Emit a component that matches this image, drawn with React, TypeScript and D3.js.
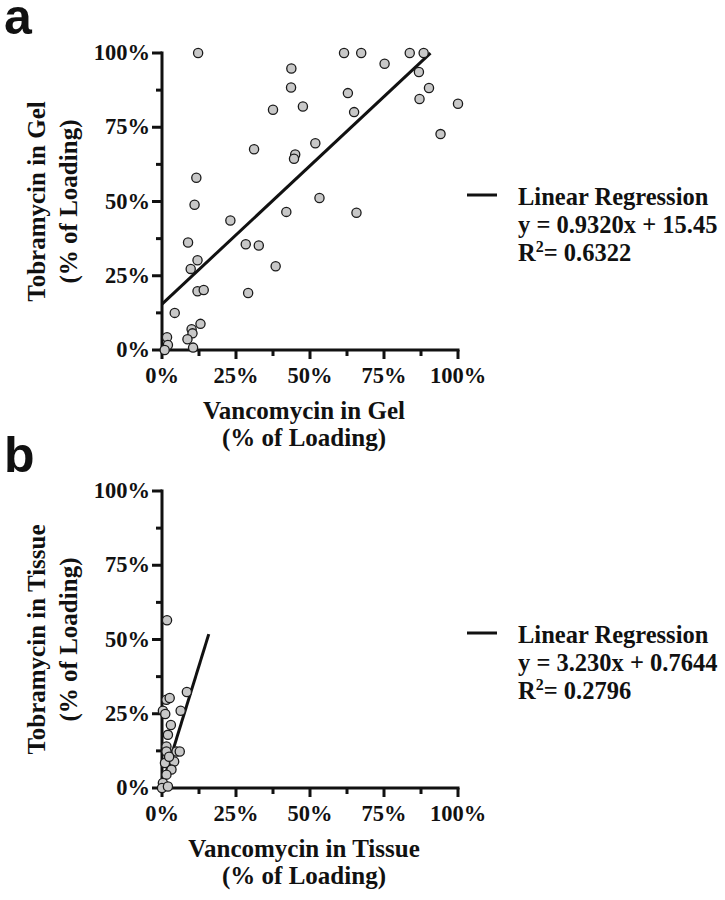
import React from "react";
import * as d3 from "d3";

const gelVanco = [12.2,61.5,67.3,83.7,88.4,75.2,43.7,86.8,43.6,90.2,62.8,87.0,100,37.5,47.6,64.9,94.1,31.1,51.8,45.0,44.6,11.6,11.0,53.2,42.0,65.7,23.1,8.8,28.3,32.7,12.0,9.7,38.4,12.0,14.1,29.1,4.3,13.0,10.0,10.3,8.6,1.7,2.0,10.5,0.9];
const gelTobra = [100,100,100,100,100,96.4,94.8,93.6,88.4,88.2,86.5,84.5,82.9,80.9,82.0,80.1,72.7,67.6,69.6,65.8,64.4,58.0,48.9,51.2,46.5,46.2,43.6,36.2,35.6,35.2,30.2,27.3,28.2,19.8,20.2,19.2,12.5,8.8,7.0,5.6,3.6,4.3,1.7,0.8,0];

const tissueVanco = [1.7,1.5,2.6,8.4,0.3,1.1,6.3,3.0,2.0,1.5,1.5,4.9,6.0,4.1,3.2,1.5,0.3,0,2.0,1.0,2.4];
const tissueTobra = [56.5,29.7,30.3,32.3,26.0,24.9,26.0,21.2,17.9,14.0,12.3,12.3,12.3,8.9,6.2,4.5,1.7,0,0.5,8.4,10.5];

const majorTicks = [0, 25, 50, 75, 100];
const minorTicks = [12.5, 37.5, 62.5, 87.5];
const tickLabels = ["0%", "25%", "50%", "75%", "100%"];

const slopes = [0.932, 3.23];
const intercepts = [15.45, 0.7644];
const fitEnds = [90.7, 15.8];
const eqTexts = ["y = 0.9320x + 15.45", "y = 3.230x + 0.7644"];
const r2Texts = ["= 0.6322", "= 0.2796"];
const yTitles = ["Tobramycin in Gel", "Tobramycin in Tissue"];
const xTitles = ["Vancomycin in Gel", "Vancomycin in Tissue"];
const panelLabels = ["a", "b"];

const SERIF = "'Liberation Serif', 'Times New Roman', serif";
const SANS = "'Liberation Sans', Arial, sans-serif";

function Panel({ idx, top, xs, ys }: { idx: number; top: number; xs: number[]; ys: number[] }) {
  const x = d3.scaleLinear().domain([0, 100]).range([162, 458]);
  const y = d3.scaleLinear().domain([0, 100]).range([top + 297, top]);
  const x0 = x(0), y0 = y(0);
  const line = d3.line<number>().x((d) => x(d)).y((d) => y(slopes[idx] * d + intercepts[idx]));
  const pts = xs.map((v, i) => [v, ys[i]]);
  const cy = (y(0) + y(100)) / 2;
  const cx = (x(0) + x(100)) / 2;
  const legY = top + 142;
  return (
    <g>
      <text x={4} y={top - 19} fontFamily={SANS} fontWeight="bold" fontSize={50} fill="#111">{panelLabels[idx]}</text>
      {/* axes */}
      <line x1={x0} x2={x0} y1={y(100) - 1.5} y2={y0 + 1.5} stroke="#111" strokeWidth={3} />
      <line x1={x0 - 1.5} x2={x(100) + 1.5} y1={y0} y2={y0} stroke="#111" strokeWidth={3} />
      {majorTicks.map((t, i) => (
        <g key={"ym" + t}>
          <line x1={x0 - 10} x2={x0} y1={y(t)} y2={y(t)} stroke="#111" strokeWidth={3} />
          <text x={x0 - 12} y={y(t) + 7} textAnchor="end" fontFamily={SERIF} fontWeight="bold" fontSize={22.5} fill="#111">{tickLabels[i]}</text>
          <line x1={x(t)} x2={x(t)} y1={y0} y2={y0 + 9} stroke="#111" strokeWidth={3} />
          <text x={x(t)} y={y0 + 33} textAnchor="middle" fontFamily={SERIF} fontWeight="bold" fontSize={22.5} fill="#111">{tickLabels[i]}</text>
        </g>
      ))}
      {minorTicks.map((t) => (
        <g key={"mn" + t}>
          <line x1={x0 - 6} x2={x0} y1={y(t)} y2={y(t)} stroke="#111" strokeWidth={3} />
          <line x1={x(t)} x2={x(t)} y1={y0} y2={y0 + 6} stroke="#111" strokeWidth={3} />
        </g>
      ))}
      {/* titles */}
      <text transform={`translate(45,${cy}) rotate(-90)`} textAnchor="middle" fontFamily={SERIF} fontWeight="bold" fontSize={25} fill="#111">{yTitles[idx]}</text>
      <text transform={`translate(77,${cy}) rotate(-90)`} textAnchor="middle" fontFamily={SERIF} fontWeight="bold" fontSize={25} fill="#111">(% of Loading)</text>
      <text x={cx - 6} y={y0 + 69} textAnchor="middle" fontFamily={SERIF} fontWeight="bold" fontSize={25} fill="#111">{xTitles[idx]}</text>
      <text x={cx - 6} y={y0 + 96} textAnchor="middle" fontFamily={SERIF} fontWeight="bold" fontSize={25} fill="#111">(% of Loading)</text>
      {/* regression */}
      <path d={line([0, fitEnds[idx]]) || ""} stroke="#111" strokeWidth={3} fill="none" />
      {pts.map((p, i) => (
        <circle key={i} cx={x(p[0])} cy={y(p[1])} r={4.6} fill="#c8c8c8" stroke="#1a1a1a" strokeWidth={1.3} />
      ))}
      {/* legend */}
      <line x1={467} x2={497} y1={legY} y2={legY} stroke="#111" strokeWidth={3} />
      <text x={518} y={legY + 10} fontFamily={SERIF} fontWeight="bold" fontSize={24.5} fill="#111">Linear Regression</text>
      <text x={518} y={legY + 38} fontFamily={SERIF} fontWeight="bold" fontSize={24.5} fill="#111">{eqTexts[idx]}</text>
      <text x={518} y={legY + 66} fontFamily={SERIF} fontWeight="bold" fontSize={24.5} fill="#111">
        R<tspan dy={-9} fontSize={16}>2</tspan><tspan dy={9}>{r2Texts[idx]}</tspan>
      </text>
    </g>
  );
}

export default function App() {
  return (
    <svg width={725} height={900} style={{ position: "absolute", left: 0, top: 0, background: "#fff" }}>
      <rect width={725} height={900} fill="#fff" />
      <Panel idx={0} top={53} xs={gelVanco} ys={gelTobra} />
      <Panel idx={1} top={491} xs={tissueVanco} ys={tissueTobra} />
    </svg>
  );
}
